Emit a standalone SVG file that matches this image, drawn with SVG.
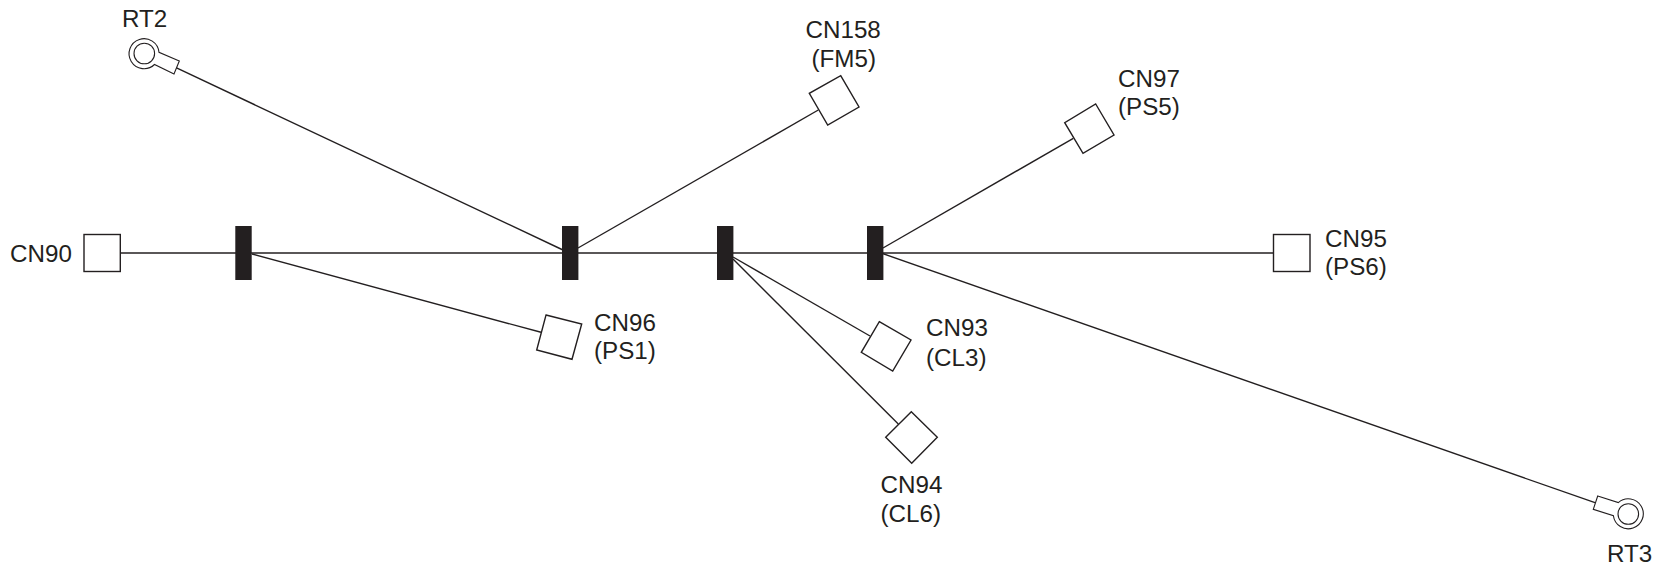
<svg xmlns="http://www.w3.org/2000/svg" width="1657" height="565" viewBox="0 0 1657 565">
<style>
text{font-family:"Liberation Sans",Arial,sans-serif;font-size:24.2px;fill:#231f20}
.s{fill:#fff;stroke:#231f20;stroke-width:1.4}
.r{fill:#fff;stroke:#231f20;stroke-width:1.1}
.b{fill:#231f20}
.c{fill:none;stroke:#231f20;stroke-width:1.4}
</style>
<rect width="1657" height="565" fill="#fff"/>
<g id="connectors">
<line class="c" x1="120" y1="253" x2="1273" y2="253"/>
<line class="c" x1="176" y1="67.7" x2="563" y2="250"/>
<line class="c" x1="578" y1="248" x2="818.3" y2="110"/>
<line class="c" x1="883" y1="248" x2="1073.3" y2="138.3"/>
<line class="c" x1="252" y1="254" x2="541" y2="332.3"/>
<line class="c" x1="733" y1="257" x2="870" y2="336"/>
<line class="c" x1="733" y1="259" x2="898.3" y2="424"/>
<line class="c" x1="881" y1="253" x2="1595" y2="502.7"/>
</g>
<g id="bar1"><rect class="b" x="235.3" y="226" width="16.4" height="54"/></g>
<g id="bar2"><rect class="b" x="562" y="226" width="16.4" height="54"/></g>
<g id="bar3"><rect class="b" x="717" y="226" width="16.4" height="54"/></g>
<g id="bar4"><rect class="b" x="867" y="226" width="16.4" height="54"/></g>
<g id="RT2">
<path class="r" d="M179.3 61L159 52.3A15 15 0 1 0 154.5 64.5L174 74Z"/>
<circle class="r" cx="144.3" cy="53.5" r="10.3"/>
<text x="122" y="27.3">RT2</text>
</g>
<g id="RT3">
<path class="r" d="M1597.7 496L1618.3 502.6A15 15 0 1 1 1613.4 515.7L1593.3 509.3Z"/>
<circle class="r" cx="1628.3" cy="514" r="10.3"/>
<text x="1607" y="561.7">RT3</text>
</g>
<g id="CN90"><rect class="s" x="84" y="234.5" width="36.3" height="37"/><text x="10" y="261.5">CN90</text></g>
<g id="CN95"><rect class="s" x="1273.5" y="234.5" width="36.5" height="37"/><text x="1325" y="246.7">CN95</text><text x="1325" y="275">(PS6)</text></g>
<g id="CN96"><polygon class="s" points="546,315 581.7,324 572,359.3 536.7,350"/><text x="594" y="330.7">CN96</text><text x="594" y="359.3">(PS1)</text></g>
<g id="CN158"><polygon class="s" points="840.7,75.7 859,107 827.7,125 809.3,93.3"/><text x="805.5" y="37.7">CN158</text><text x="811.5" y="66.7">(FM5)</text></g>
<g id="CN97"><polygon class="s" points="1095.7,104 1114,135 1083,153.3 1064.7,122.7"/><text x="1118" y="86.7">CN97</text><text x="1118" y="115">(PS5)</text></g>
<g id="CN93"><polygon class="s" points="879.3,321.7 911,340 892.7,371 861.3,352.3"/><text x="926" y="336">CN93</text><text x="926" y="365.7">(CL3)</text></g>
<g id="CN94"><polygon class="s" points="911.3,411.7 937.3,437.3 911.7,463.3 885.7,437.3"/><text x="880.5" y="492.7">CN94</text><text x="880.5" y="521.7">(CL6)</text></g>
</svg>
